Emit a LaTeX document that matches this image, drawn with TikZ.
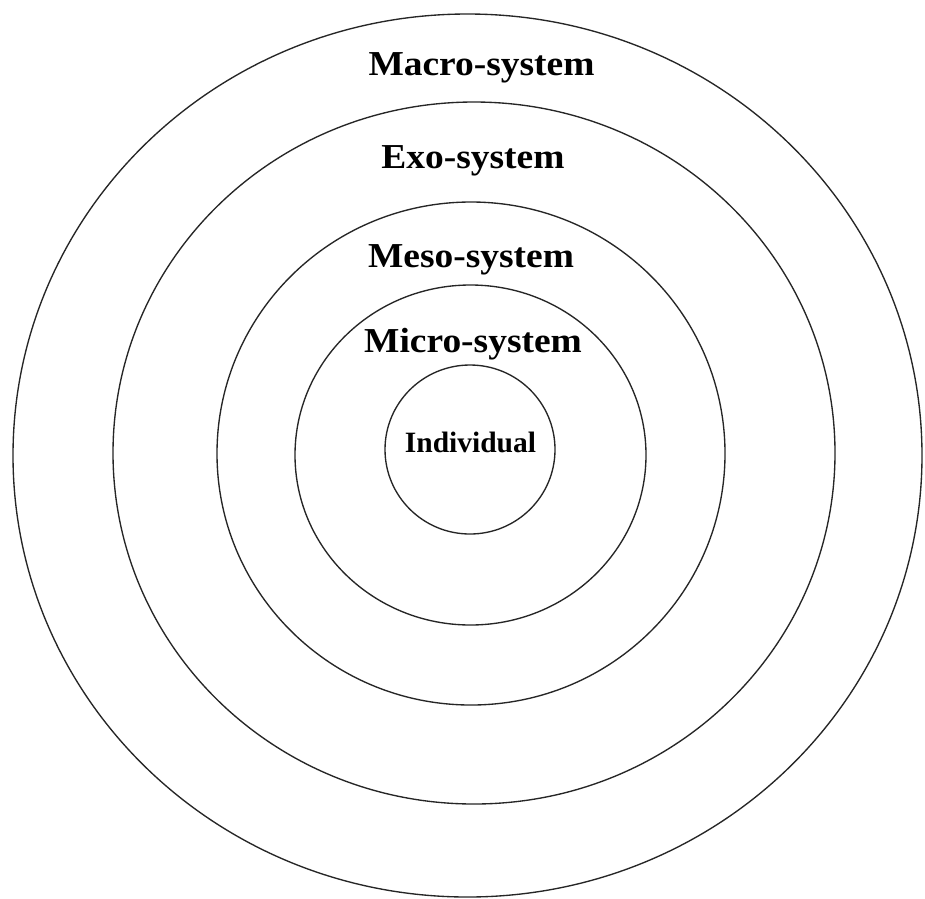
\documentclass[tikz,border=0pt]{standalone}
\usepackage{fontspec}
\setmainfont{Liberation Serif}
\usepackage{graphicx}
\begin{document}
\begin{tikzpicture}[x=1pt,y=-1pt,
  ring/.style={draw=black!85,line width=1.35pt},
  biglabel/.style={anchor=base,inner sep=0pt,font=\fontsize{35}{35}\selectfont\bfseries},
  smalllabel/.style={anchor=base,inner sep=0pt,font=\fontsize{29.5}{29.5}\selectfont\bfseries}]
\useasboundingbox[fill=white] (0,0) rectangle (925,898);
\draw[ring] (467.5,455.5) ellipse [x radius=454.5pt, y radius=441.5pt];
\draw[ring] (474,453) ellipse [x radius=361pt, y radius=351pt];
\draw[ring] (471,453.5) ellipse [x radius=254pt, y radius=251.5pt];
\draw[ring] (470.5,455) ellipse [x radius=175.5pt, y radius=170pt];
\draw[ring] (470,449.5) ellipse [x radius=85pt, y radius=84.5pt];
\node[biglabel] (macro) at (481.5,75) {\scalebox{1.07}[1]{Macro-system}};
\node[biglabel] (exo) at (473,168) {\scalebox{1.07}[1]{Exo-system}};
\node[biglabel] (meso) at (471,267) {\scalebox{1.07}[1]{Meso-system}};
\node[biglabel] (micro) at (473,352) {\scalebox{1.07}[1]{Micro-system}};
\node[smalllabel] (indiv) at (470.5,452) {Individual};
\end{tikzpicture}
\end{document}
